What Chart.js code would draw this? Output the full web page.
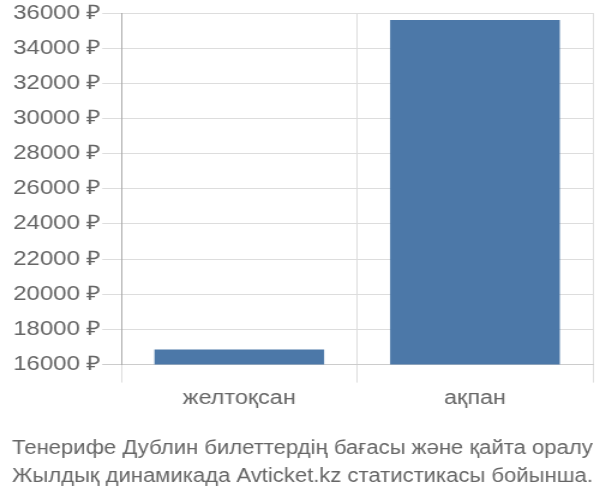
<!DOCTYPE html>
<html><head><meta charset="utf-8">
<script src="https://cdn.jsdelivr.net/npm/chart.js@4/dist/chart.umd.min.js"></script>
<style>html,body{margin:0;padding:0;background:#fff;overflow:hidden}#wrap{width:500px;height:500px;transform:scaleX(1.2);transform-origin:0 0}</style>
</head><body><div id="wrap"><canvas id="c" width="500" height="500"></canvas></div>
<script>
const categories = ["желтоқсан", "ақпан"];
const prices = [16860, 35600];
const yTicks = [16000, 18000, 20000, 22000, 24000, 26000, 28000, 30000, 32000, 34000, 36000];
const titleLines = ["Тенерифе Дублин билеттердің бағасы және қайта оралу", "Жылдық динамикада Avticket.kz статистикасы бойынша."];

const FONT = "'Liberation Sans', Arial, sans-serif";
new Chart(document.getElementById('c'), {
  type: 'bar',
  data: { labels: categories, datasets: [{ data: prices, backgroundColor: '#4c78a8', barPercentage: 0.72, categoryPercentage: 1 }] },
  options: {
    responsive: false, animation: false, devicePixelRatio: 1,
    layout: { padding: { left: 10, right: 6, top: 8, bottom: 0 } },
    plugins: {
      legend: { display: false }, tooltip: { enabled: false },
      title: { display: true, position: 'bottom', text: titleLines, color: '#666', font: { family: FONT, size: 20, weight: 'normal', lineHeight: 1.4 }, padding: { top: 20, bottom: 10 } }
    },
    scales: {
      x: {
        grid: { color: '#ddd', tickLength: 18, offset: true },
        border: { color: '#ccc' },
        ticks: { color: '#666', font: { family: FONT, size: 19.5 }, padding: 4 }
      },
      y: {
        min: 16000, max: 36000,
        afterBuildTicks: (s) => { s.ticks = yTicks.map(v => ({ value: v })); },
        grid: { color: (ctx) => ctx.tick && ctx.tick.value === 16000 ? '#ccc' : '#ddd', tickLength: 16 },
        border: { color: '#aaa' },
        ticks: { color: '#666', font: { family: FONT, size: 20 }, padding: 1, callback: (v) => v + ' ₽' }
      }
    }
  }
});
</script></body></html>
